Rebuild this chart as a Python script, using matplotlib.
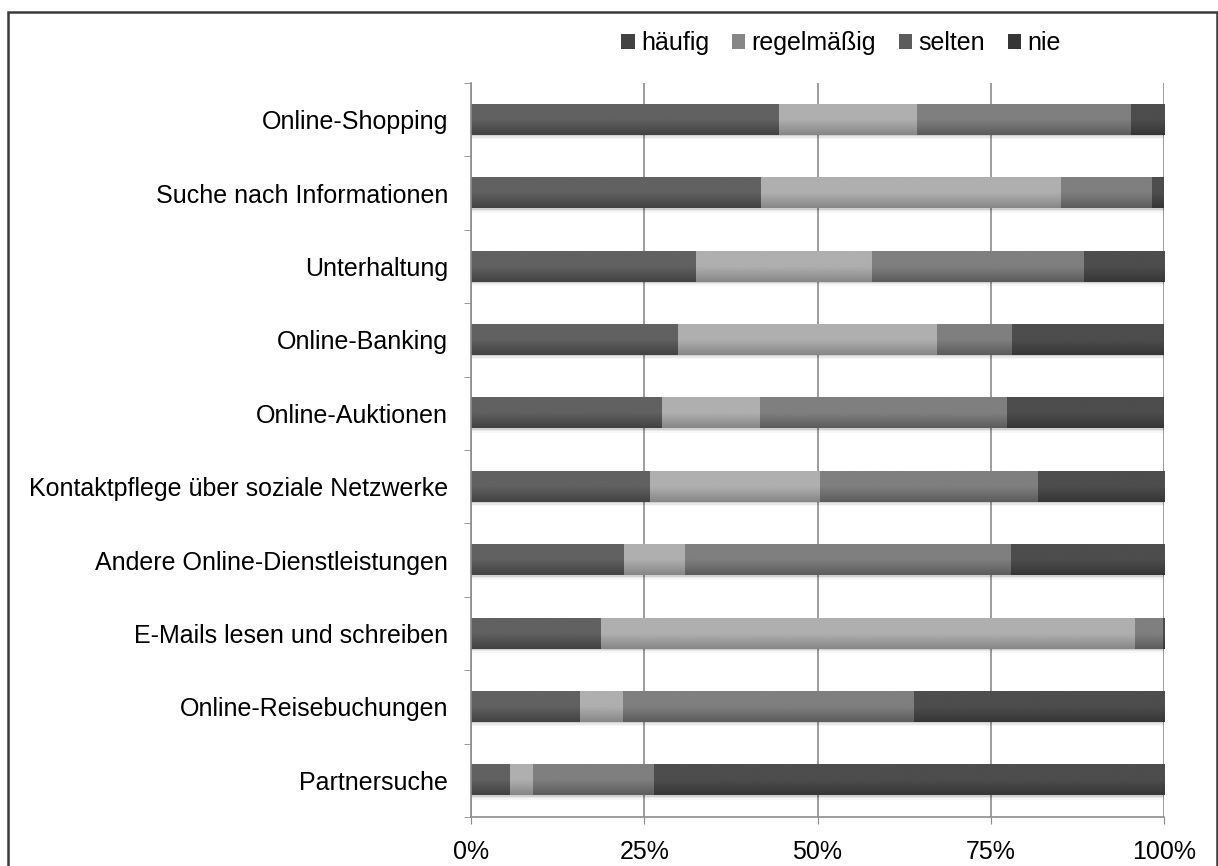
import matplotlib
matplotlib.use('Agg')
import matplotlib.pyplot as plt
import matplotlib.patches as mp
import numpy as np
from matplotlib.colors import LinearSegmentedColormap

plt.rcParams['font.family'] = ['Liberation Sans', 'DejaVu Sans']

categories = ['Online-Shopping', 'Suche nach Informationen', 'Unterhaltung',
              'Online-Banking', 'Online-Auktionen',
              'Kontaktpflege über soziale Netzwerke',
              'Andere Online-Dienstleistungen', 'E-Mails lesen und schreiben',
              'Online-Reisebuchungen', 'Partnersuche']
series = ['häufig', 'regelmäßig', 'selten', 'nie']
haeufig = [44.5, 41.9, 32.5, 29.8, 27.6, 25.9, 22.1, 18.8, 15.8, 5.6]
regelmaessig = [19.8, 43.3, 25.4, 37.4, 14.1, 24.4, 8.8, 77.0, 6.1, 3.3]
selten = [30.9, 13.1, 30.5, 10.9, 35.7, 31.5, 47.0, 4.0, 42.0, 17.5]
nie = [4.8, 1.7, 11.6, 21.9, 22.6, 18.2, 22.1, 0.2, 36.1, 73.6]

# top / bottom colours of the gradient fill
grad = {'häufig': ('#616161', '#424242'),
        'regelmäßig': ('#afafaf', '#878787'),
        'selten': ('#7f7f7f', '#5c5c5c'),
        'nie': ('#4d4d4d', '#363636')}

fs = 18
fig = plt.figure(figsize=(12.18, 8.66), dpi=100)
ax = fig.add_axes([471 / 1218, 1 - 817 / 866, (1164 - 471) / 1218, (817 - 83) / 866])

data = np.array([haeufig, regelmaessig, selten, nie]) / 100.0
tot = data.sum(axis=0)
data = data / tot
y = np.arange(len(categories))
h = 0.41

# soft shadow under the bars
for yy in y:
    for k, a in enumerate([0.10, 0.06, 0.03]):
        ax.add_patch(mp.Rectangle((0.002, yy - h / 2 + 0.02 + 0.02 * k), 1.0, h,
                                  facecolor='k', alpha=a, edgecolor='none', zorder=1.5))

left = np.zeros(len(categories))
handles = []
for name, vals in zip(series, data):
    top, bot = grad[name]
    cmap = LinearSegmentedColormap.from_list(name, [top, top, bot])
    g = np.linspace(0, 1, 64).reshape(-1, 1)
    for i in range(len(categories)):
        ax.imshow(g, cmap=cmap, aspect='auto', interpolation='bilinear',
                  extent=(left[i], left[i] + vals[i], y[i] + h / 2, y[i] - h / 2),
                  zorder=2)
    handles.append(mp.Patch(facecolor=bot, edgecolor='none', label=name))
    left += vals

ax.set_xlim(0, 1)
ax.set_ylim(len(categories) - 0.5, -0.5)
ax.set_xticks([0, 0.25, 0.5, 0.75, 1.0])
ax.set_xticklabels(['0%', '25%', '50%', '75%', '100%'], fontsize=fs)
ax.set_yticks(y)
ax.set_yticklabels(categories, fontsize=fs)
ax.tick_params(axis='y', length=0, pad=16.5)
ax.set_yticks(np.arange(-0.5, len(categories), 1.0), minor=True)
ax.tick_params(axis='y', which='minor', length=5, color='#8c8c8c', direction='out')
ax.tick_params(axis='x', length=5, color='#8c8c8c', pad=11.5)
ax.grid(axis='x', color='#8c8c8c', linewidth=1.2, zorder=0)
ax.set_axisbelow(True)
for s in ['top', 'right']:
    ax.spines[s].set_visible(False)
for s in ['left', 'bottom']:
    ax.spines[s].set_color('#8c8c8c')
    ax.spines[s].set_linewidth(1.2)

fig.legend(handles=handles, loc='center', bbox_to_anchor=(841 / 1218, 1 - 43 / 866),
           ncol=4, frameon=False, fontsize=fs, handlelength=0.55, handleheight=0.55,
           handletextpad=0.25, columnspacing=0.9)

fig.patches.append(mp.Rectangle((8 / 1218, -0.05), (1217 - 8) / 1218, 1 + 0.05 - 12 / 866,
                                transform=fig.transFigure, fill=False,
                                edgecolor='#3a3a3a', linewidth=1.8))

fig.savefig('out.png', dpi=100)
